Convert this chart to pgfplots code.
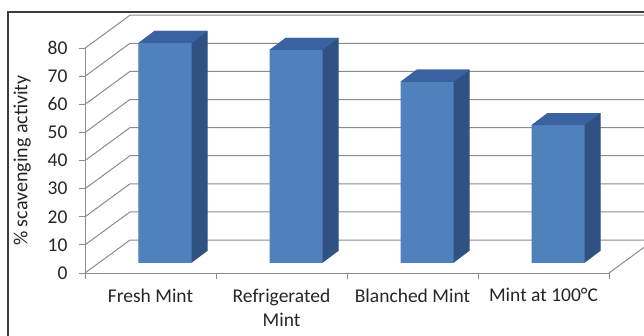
\documentclass[border=0pt]{standalone}
\usepackage{pgfplots}
\usepackage{pgfplotstable}
\pgfplotsset{compat=1.18}
\usepackage{fontspec}
\setmainfont{Carlito}
\definecolor{barfront}{HTML}{4F81BD}
\definecolor{barside}{HTML}{2F5283}
\definecolor{bartop}{HTML}{3A62A0}
\definecolor{gridc}{HTML}{8C8C8C}
\definecolor{framec}{HTML}{3C3C3C}
\pgfplotstableread{
cat val
1 78.3
2 75.8
3 64.5
4 49.1
}\mintdata
\pgfdeclareplotmark{cubetop}{%
  \pgfpathmoveto{\pgfpoint{-12bp}{10bp}}%
  \pgfpathlineto{\pgfpoint{41bp}{10bp}}%
  \pgfpathlineto{\pgfpoint{57bp}{22bp}}%
  \pgfpathlineto{\pgfpoint{4bp}{22bp}}%
  \pgfpathclose
  \pgfusepathqfill}
\begin{document}
\begin{tikzpicture}
\useasboundingbox (0,0) rectangle (644bp,336bp);
\fill[white] (0,0) rectangle (644bp,336bp);
\clip (0,0) rectangle (644bp,336bp);
\begin{axis}[
  x=131bp, y=2.81bp,
  at={(85bp,63bp)}, anchor=south west,
  xmin=0.5, xmax=4.5, ymin=0, ymax=80,
  clip=false,
  axis lines*=left,
  axis line style={gridc, line width=1bp},
  tick style={gridc, line width=1bp},
  tick align=outside,
  major tick length=6bp,
  ytick={0,10,...,80},
  yticklabel style={xshift=-8bp},
  xtick={0.5,1.5,2.5,3.5,4.5},
  xticklabels={,,,,},
  extra x ticks={1,2,3,4},
  extra x tick labels={Fresh Mint,{Refrigerated\\Mint},Blanched Mint,Mint at 100°C},
  extra x tick style={major tick length=0pt, xticklabel style={align=center, yshift=-12bp}},
  ticklabel style={font=\fontsize{19.5bp}{24bp}\selectfont, text=black!85},
  /pgf/number format/assume math mode=true,
  ylabel={\% scavenging activity},
  ylabel style={font=\fontsize{20bp}{24bp}\selectfont, text=black!85, at={(axis description cs:-0.12,0.5)}, anchor=center},
]
% left wall diagonals and back wall gridlines
\draw[gridc, line width=1bp] (axis cs:0.5,0)  -- (axis cs:0.8435,11.74) -- (axis cs:4.95,11.74);
\draw[gridc, line width=1bp] (axis cs:0.5,10) -- (axis cs:0.8435,21.74) -- (axis cs:4.95,21.74);
\draw[gridc, line width=1bp] (axis cs:0.5,20) -- (axis cs:0.8435,31.74) -- (axis cs:4.95,31.74);
\draw[gridc, line width=1bp] (axis cs:0.5,30) -- (axis cs:0.8435,41.74) -- (axis cs:4.95,41.74);
\draw[gridc, line width=1bp] (axis cs:0.5,40) -- (axis cs:0.8435,51.74) -- (axis cs:4.95,51.74);
\draw[gridc, line width=1bp] (axis cs:0.5,50) -- (axis cs:0.8435,61.74) -- (axis cs:4.95,61.74);
\draw[gridc, line width=1bp] (axis cs:0.5,60) -- (axis cs:0.8435,71.74) -- (axis cs:4.95,71.74);
\draw[gridc, line width=1bp] (axis cs:0.5,70) -- (axis cs:0.8435,81.74) -- (axis cs:4.95,81.74);
\draw[gridc, line width=1bp] (axis cs:0.5,80) -- (axis cs:0.8435,91.74) -- (axis cs:4.95,91.74);
% floor right edge
\draw[gridc, line width=1bp] (axis cs:4.5,0) -- (axis cs:4.8435,11.74);
% bar depth (side and top) by extrusion
\pgfplotsinvokeforeach{0.5,1,...,16}{
  \addplot[ybar, bar width=0.4046, bar shift=0pt, fill=barside, draw=none,
    xshift=14.5bp+#1bp, yshift=10bp+0.75*#1bp] table[x=cat,y=val] {\mintdata};
}
% front faces
\addplot[ybar, bar width=0.4046, bar shift=0pt, fill=barfront, draw=none,
  xshift=14.5bp, yshift=10bp] table[x=cat,y=val] {\mintdata};
% top faces
\addplot[only marks, mark=cubetop, color=bartop] table[x=cat,y=val] {\mintdata};
\end{axis}
\draw[framec, line width=1.5bp] (8bp,-10bp) -- (8bp,324bp) -- (660bp,324bp);
\end{tikzpicture}
\end{document}
